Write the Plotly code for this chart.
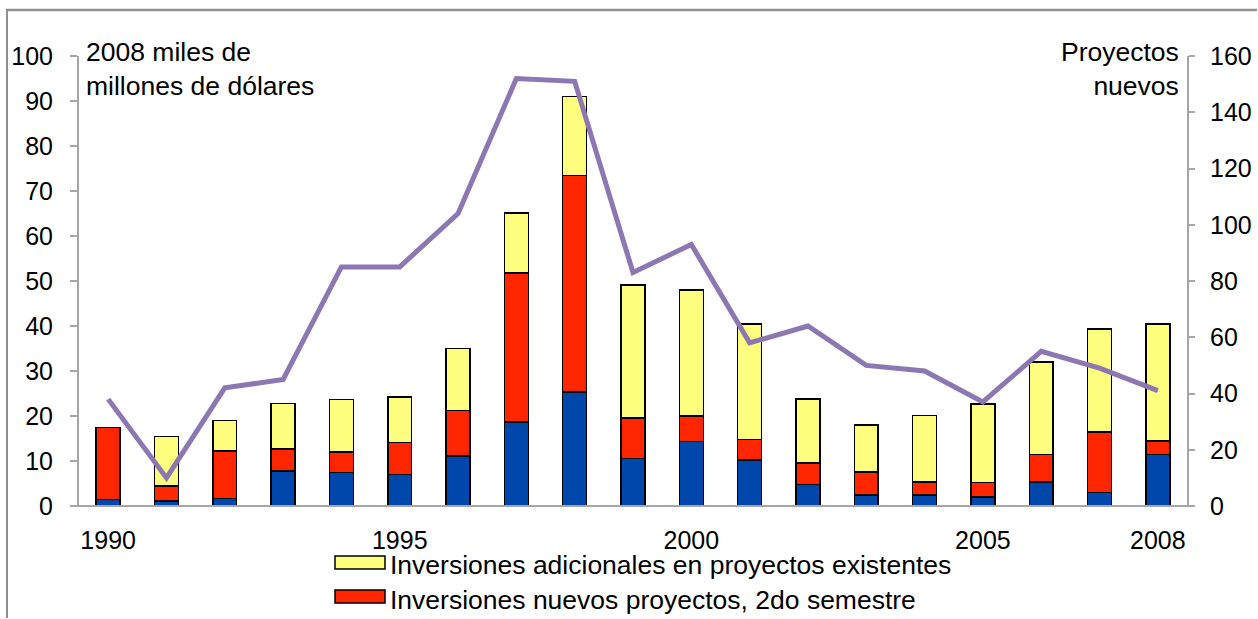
import plotly.graph_objects as go

years = list(range(1990, 2009))
nuevos_1er = [1.5, 1.1, 1.7, 7.8, 7.4, 7.0, 11.1, 18.7, 25.3, 10.6, 14.3, 10.2, 4.8, 2.4, 2.4, 2.0, 5.3, 3.0, 11.5]
nuevos_2do_top = [17.4, 4.4, 12.2, 12.7, 12.0, 14.1, 21.2, 51.8, 73.5, 19.6, 20.0, 14.8, 9.6, 7.6, 5.3, 5.2, 11.4, 16.4, 14.5]
total_top = [17.5, 15.4, 19.0, 22.8, 23.7, 24.2, 35.0, 65.1, 91.0, 49.1, 48.0, 40.4, 23.8, 18.0, 20.1, 22.7, 32.0, 39.3, 40.4]
proyectos = [38, 10, 42, 45, 85, 85, 104, 152, 151, 83, 93, 58, 64, 50, 48, 37, 55, 49, 41]

nuevos_2do = [round(r - b, 2) for r, b in zip(nuevos_2do_top, nuevos_1er)]
adicionales = [round(max(t - r, 0), 2) for t, r in zip(total_top, nuevos_2do_top)]

x_ticks = [1990, 1995, 2000, 2005, 2008]
y_ticks = list(range(0, 101, 10))
y2_ticks = list(range(0, 161, 20))

BLUE = "#0047AB"
RED = "#FF2600"
YELLOW = "#FFFF7F"
PURPLE = "#8C77B3"
AX = "#A6A6A6"
FRAME = "#8F8F8F"
FONT = "Liberation Sans, Arial, sans-serif"
TICK = 25
TXT = 26.5

fig = go.Figure()
line_style = dict(color="#000000", width=1.5)
fig.add_trace(go.Bar(x=years, y=nuevos_1er, marker=dict(color=BLUE, line=line_style),
                     name="Inversiones nuevos proyectos, 1er semestre", showlegend=False))
fig.add_trace(go.Bar(x=years, y=nuevos_2do, marker=dict(color=RED, line=line_style),
                     name="Inversiones nuevos proyectos, 2do semestre", showlegend=False))
fig.add_trace(go.Bar(x=years, y=adicionales, marker=dict(color=YELLOW, line=line_style),
                     name="Inversiones adicionales en proyectos existentes", showlegend=False))
fig.add_trace(go.Scatter(x=years, y=proyectos, yaxis="y2", mode="lines",
                         line=dict(color=PURPLE, width=5), name="Proyectos nuevos", showlegend=False))

L, R, T, B = 79, 1258 - 1187, 56, 619 - 506
PW, PH = 1258 - L - R, 619 - T - B

def px(xp):
    return (xp - L) / PW

def py(yp):
    return (619 - B - yp) / PH

fig.update_layout(
    width=1258, height=619,
    margin=dict(l=L, r=R, t=T, b=B, pad=0, autoexpand=False),
    paper_bgcolor="white", plot_bgcolor="white",
    barmode="stack", bargap=0.59,
    font=dict(family=FONT, size=TICK, color="#000000"),
    xaxis=dict(range=[1989.5, 2008.5], tickmode="array", tickvals=x_ticks,
               ticktext=[str(v) for v in x_ticks], showgrid=False, zeroline=False,
               showline=False, ticks="", ticklabelstandoff=17,
               tickfont=dict(size=TICK)),
    yaxis=dict(range=[0, 100], tickmode="array", tickvals=y_ticks, showgrid=False,
               zeroline=False, showline=True, linecolor=AX, linewidth=2,
               ticks="outside", ticklen=7, tickcolor=AX, tickwidth=2,
               ticklabelstandoff=12, tickfont=dict(size=TICK)),
    yaxis2=dict(range=[0, 160], tickmode="array", tickvals=y2_ticks, overlaying="y",
                side="right", showgrid=False, zeroline=False, showline=True,
                linecolor=AX, linewidth=2, ticks="outside", ticklen=6, tickcolor=AX,
                tickwidth=2, ticklabelstandoff=10, tickfont=dict(size=TICK)),
)

shapes = [
    dict(type="line", xref="paper", yref="paper", x0=px(6), x1=px(1257), y0=py(10), y1=py(10),
         line=dict(color=FRAME, width=2.5)),
    dict(type="line", xref="paper", yref="paper", x0=px(7), x1=px(7), y0=py(9), y1=py(618),
         line=dict(color=FRAME, width=2)),
    dict(type="line", xref="paper", yref="paper", x0=px(72), x1=px(1193), y0=0, y1=0,
         line=dict(color=AX, width=2)),
    dict(type="rect", xref="paper", yref="paper", x0=px(335), x1=px(385), y0=py(556), y1=py(569),
         line=dict(color="#000000", width=1.5), fillcolor=YELLOW),
    dict(type="rect", xref="paper", yref="paper", x0=px(335), x1=px(385), y0=py(590), y1=py(603),
         line=dict(color="#000000", width=1.5), fillcolor=RED),
]
fig.update_layout(shapes=shapes)

annotations = [
    dict(text="2008 miles de<br>millones de dólares", xref="paper", yref="paper",
         x=px(84), y=py(35), xanchor="left", yanchor="top", align="left", showarrow=False,
         font=dict(size=TXT)),
    dict(text="Proyectos<br>nuevos", xref="paper", yref="paper",
         x=px(1181), y=py(35), xanchor="right", yanchor="top", align="right", showarrow=False,
         font=dict(size=TXT)),
    dict(text="Inversiones adicionales en proyectos existentes", xref="paper", yref="paper",
         x=px(388), y=py(565), xanchor="left", yanchor="middle", showarrow=False,
         font=dict(size=TXT)),
    dict(text="Inversiones nuevos proyectos, 2do semestre", xref="paper", yref="paper",
         x=px(388), y=py(600), xanchor="left", yanchor="middle", showarrow=False,
         font=dict(size=TXT)),
]
fig.update_layout(annotations=annotations)

fig.write_html("out.html", config={"displayModeBar": False})

with open("out.html", "r", encoding="utf-8") as f:
    html = f.read()
html = html.replace("<head>", "<head><style>html,body{margin:0;padding:0;overflow:hidden;}</style>", 1)
with open("out.html", "w", encoding="utf-8") as f:
    f.write(html)
